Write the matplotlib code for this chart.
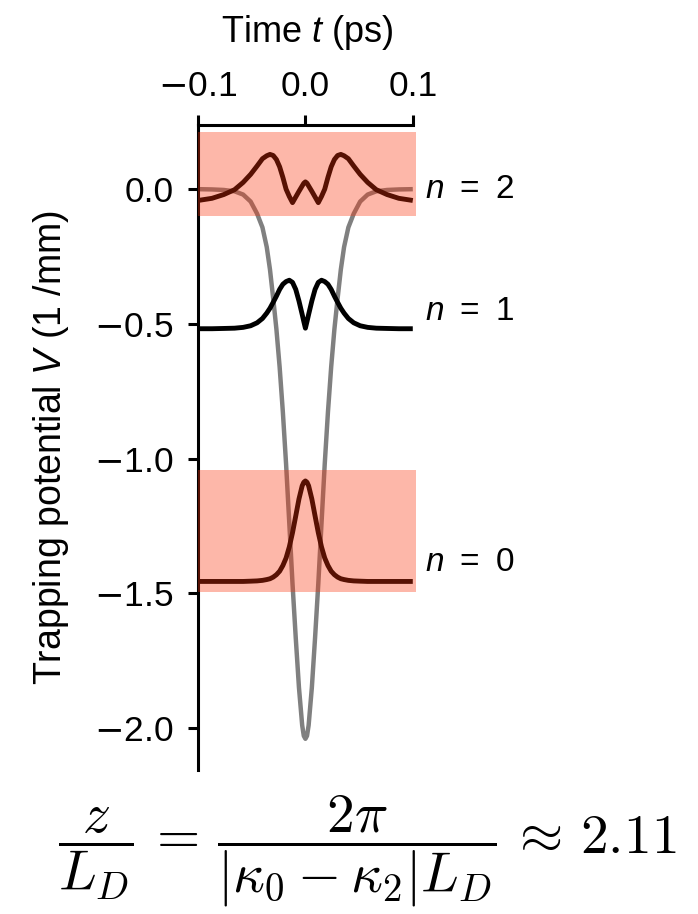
import matplotlib
matplotlib.use("Agg")
import matplotlib.pyplot as plt

plt.rcParams['font.family'] = ['Liberation Sans', 'DejaVu Sans']
plt.rcParams['mathtext.fontset'] = 'custom'
plt.rcParams['mathtext.rm'] = 'Liberation Sans'
plt.rcParams['mathtext.it'] = 'Liberation Sans:italic'
plt.rcParams['mathtext.bf'] = 'Liberation Sans:bold'

# Time axis (ps)
time_ps = [-0.100, -0.087, -0.076, -0.066, -0.058, -0.051, -0.045, -0.040, -0.036, -0.033,
           -0.030, -0.027, -0.024, -0.021, -0.018, -0.015, -0.012, -0.009, -0.006, -0.003,
           -0.0015, 0.000, 0.0015,
           0.003, 0.006, 0.009, 0.012, 0.015, 0.018, 0.021, 0.024, 0.027,
           0.030, 0.033, 0.036, 0.040, 0.045, 0.051, 0.058, 0.066, 0.076, 0.087, 0.100]

# Trapping potential V(t) in 1/mm
potential = [0.000, -0.001, -0.003, -0.008, -0.020, -0.046, -0.091, -0.142, -0.215, -0.298,
             -0.405, -0.520, -0.660, -0.827, -1.020, -1.240, -1.465, -1.665, -1.850, -1.990,
             -2.029, -2.040, -2.029,
             -1.990, -1.850, -1.665, -1.465, -1.240, -1.020, -0.827, -0.660, -0.520,
             -0.405, -0.298, -0.215, -0.142, -0.091, -0.046, -0.020, -0.008, -0.003, -0.001, 0.000]

# Bound-mode profiles, each offset by its propagation constant
mode_n0 = [-1.456, -1.456, -1.456, -1.456, -1.456, -1.455, -1.454, -1.452, -1.449, -1.446,
           -1.440, -1.431, -1.418, -1.397, -1.369, -1.328, -1.275, -1.213, -1.150, -1.101,
           -1.088, -1.083, -1.088,
           -1.101, -1.150, -1.213, -1.275, -1.328, -1.369, -1.397, -1.418, -1.431,
           -1.440, -1.446, -1.449, -1.452, -1.454, -1.455, -1.456, -1.456, -1.456, -1.456, -1.456]

mode_n1 = [-0.518, -0.518, -0.517, -0.516, -0.513, -0.507, -0.496, -0.480, -0.460, -0.442,
           -0.420, -0.397, -0.372, -0.353, -0.343, -0.338, -0.346, -0.372, -0.415, -0.465,
           -0.491, -0.516, -0.491,
           -0.465, -0.415, -0.372, -0.346, -0.338, -0.343, -0.353, -0.372, -0.397,
           -0.420, -0.442, -0.460, -0.480, -0.496, -0.507, -0.513, -0.516, -0.517, -0.518, -0.518]

mode_n2 = [-0.042, -0.034, -0.020, -0.002, 0.025, 0.055, 0.086, 0.113, 0.124, 0.129,
           0.125, 0.110, 0.083, 0.044, 0.000, -0.027, -0.050, -0.029, -0.008, 0.012,
           0.022, 0.027, 0.022,
           0.012, -0.008, -0.029, -0.050, -0.027, 0.000, 0.044, 0.083, 0.110,
           0.125, 0.129, 0.124, 0.113, 0.086, 0.055, 0.025, -0.002, -0.020, -0.034, -0.042]

mode_labels = [r'$n\:\,=\:\,0$', r'$n\:\,=\:\,1$', r'$n\:\,=\:\,2$']
label_y = [-1.387, -0.453, 0.0]

# Highlighted bands around the n = 0 and n = 2 modes
band_lo = [-1.494, -0.100]
band_hi = [-1.041, 0.211]

x_ticks = [-0.1, 0.0, 0.1]
x_ticklabels = [r'$-$0.1', '0.0', '0.1']
y_ticks = [0.0, -0.5, -1.0, -1.5, -2.0]
y_ticklabels = ['0.0', r'$-$0.5', r'$-$1.0', r'$-$1.5', r'$-$2.0']

fig = plt.figure(figsize=(6.98, 9.14), dpi=100)
ax = fig.add_axes([0.2837, 0.1575, 0.3123, 0.7057])

ax.plot(time_ps, potential, color='#808080', lw=3.2, zorder=2, solid_capstyle='butt')
for ys in (mode_n0, mode_n1, mode_n2):
    ax.plot(time_ps, ys, color='black', lw=3.5, zorder=2.5, solid_capstyle='butt')

for lo, hi in zip(band_lo, band_hi):
    ax.axhspan(lo, hi, color='#fa320a', alpha=0.35, lw=0, zorder=3)

for txt, yy in zip(mode_labels, label_y):
    ax.text(0.111, yy, txt, fontsize=24, va='center', ha='left')

ax.set_xlim(-0.1, 0.103)
ax.set_ylim(-2.156, 0.238)

ax.xaxis.tick_top()
ax.xaxis.set_label_position('top')
ax.set_xticks(x_ticks)
ax.set_xticklabels(x_ticklabels)
ax.set_yticks(y_ticks)
ax.set_yticklabels(y_ticklabels)
for lab in ax.get_xticklabels() + ax.get_yticklabels():
    lab.set_math_fontfamily('dejavusans')

for side in ('right', 'bottom'):
    ax.spines[side].set_visible(False)
for side in ('top', 'left'):
    ax.spines[side].set_linewidth(2.2)
ax.spines['top'].set_bounds(-0.1, 0.1)

ax.tick_params(axis='both', length=7, width=2.2, labelsize=25.5)
ax.tick_params(axis='y', pad=10.5)
ax.tick_params(axis='x', pad=9)

ax.set_xlabel('Time $t$ (ps)', fontsize=26, labelpad=20)
ax.set_ylabel('Trapping potential $V$ (1 /mm)', fontsize=27, labelpad=17)

fig.text(0.526, 0.069,
         r'$\dfrac{z}{L_D}\,=\,\dfrac{2\pi}{|\kappa_0 - \kappa_2| L_D}\,\approx\,2.11$',
         fontsize=40, ha='center', va='center', math_fontfamily='cm')

fig.savefig('out.png', dpi=100)
